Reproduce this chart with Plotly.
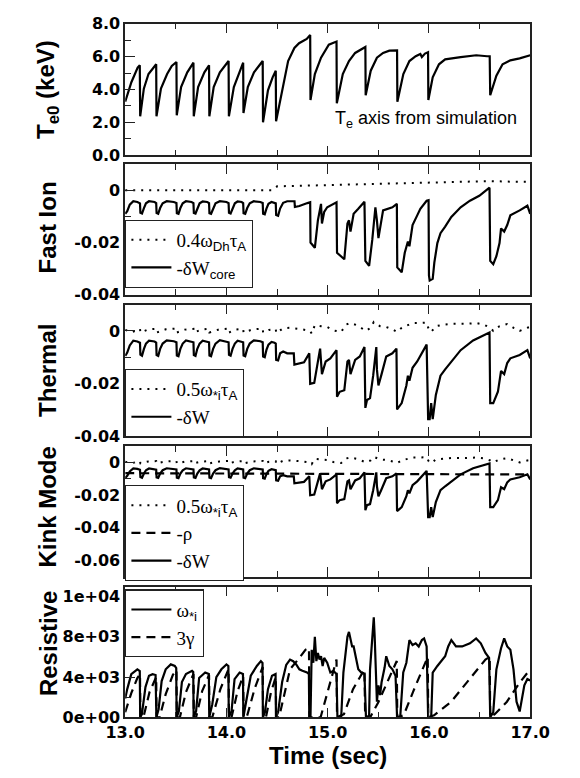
import plotly.graph_objects as go

# ---------------- data (time in s, value) ----------------
# Central electron temperature (keV)
te_pts = [
    (13.000, 3.26), (13.061, 4.44), (13.123, 5.33), (13.144, 5.47), (13.148, 2.37), (13.184, 4.05),
    (13.230, 4.94), (13.306, 5.53), (13.309, 2.37), (13.353, 4.05), (13.414, 4.94), (13.460, 5.43),
    (13.506, 5.67), (13.509, 2.43), (13.552, 4.15), (13.613, 5.04), (13.674, 5.63), (13.677, 2.37),
    (13.720, 4.15), (13.782, 5.04), (13.828, 5.47), (13.831, 2.37), (13.874, 4.15), (13.935, 5.04),
    (14.021, 5.73), (14.024, 2.37), (14.073, 4.15), (14.119, 4.94), (14.165, 5.63), (14.168, 2.57),
    (14.211, 4.15), (14.272, 5.04), (14.358, 5.73), (14.361, 2.01), (14.410, 3.95), (14.456, 4.74),
    (14.487, 5.14), (14.490, 2.07), (14.548, 3.75), (14.609, 5.73), (14.671, 6.52), (14.717, 6.81),
    (14.793, 7.07), (14.827, 7.31), (14.830, 3.36), (14.873, 4.94), (14.934, 5.93), (15.011, 6.72),
    (15.087, 6.91), (15.090, 3.16), (15.149, 4.94), (15.210, 5.73), (15.271, 6.22), (15.372, 6.58),
    (15.375, 3.65), (15.425, 5.14), (15.486, 5.93), (15.547, 6.22), (15.609, 6.36), (15.685, 6.38),
    (15.688, 3.26), (15.747, 4.94), (15.807, 5.73), (15.869, 6.02), (15.915, 6.16), (15.930, 5.97),
    (15.961, 6.18), (15.991, 6.26), (15.994, 3.36), (16.037, 4.74), (16.099, 5.53), (16.160, 5.83),
    (16.313, 5.97), (16.467, 6.08), (16.574, 6.02), (16.600, 6.02), (16.605, 3.65), (16.666, 4.84),
    (16.727, 5.53), (16.804, 5.77), (16.896, 5.89), (17.000, 6.08)]

# Fast ion: 0.4 w_Dh tau_A (dotted)
fdot_pts = [
    (13.00, 0.0), (13.50, 0.0), (14.00, 0.0), (14.45, 0.0), (14.50, 0.0015), (14.60, 0.0016),
    (14.80, 0.0017), (15.00, 0.0019), (15.20, 0.0021), (15.40, 0.0024), (15.60, 0.0025), (15.80, 0.0026),
    (16.00, 0.0029), (16.20, 0.0031), (16.40, 0.0033), (16.60, 0.0035), (16.80, 0.0033), (17.00, 0.0033)]

# Fast ion: -dW_core (solid)
fcore_pts = [
    (13.000, -0.0090), (13.020, -0.0080), (13.045, -0.0055), (13.080, -0.0042), (13.120, -0.0045), (13.146, -0.0050),
    (13.150, -0.0086), (13.166, -0.0089), (13.185, -0.0068), (13.205, -0.0050), (13.235, -0.0042), (13.290, -0.0045),
    (13.306, -0.0049), (13.310, -0.0087), (13.326, -0.0090), (13.345, -0.0068), (13.370, -0.0050), (13.410, -0.0042),
    (13.480, -0.0045), (13.506, -0.0049), (13.510, -0.0088), (13.526, -0.0090), (13.545, -0.0068), (13.568, -0.0050),
    (13.600, -0.0042), (13.655, -0.0045), (13.674, -0.0049), (13.678, -0.0087), (13.694, -0.0089), (13.712, -0.0068),
    (13.735, -0.0050), (13.765, -0.0043), (13.810, -0.0045), (13.828, -0.0049), (13.832, -0.0088), (13.848, -0.0090),
    (13.868, -0.0068), (13.892, -0.0050), (13.935, -0.0042), (14.000, -0.0045), (14.021, -0.0049), (14.025, -0.0086),
    (14.041, -0.0089), (14.060, -0.0068), (14.083, -0.0050), (14.110, -0.0043), (14.150, -0.0045), (14.165, -0.0049),
    (14.169, -0.0088), (14.185, -0.0090), (14.205, -0.0068), (14.230, -0.0050), (14.270, -0.0042), (14.335, -0.0045),
    (14.358, -0.0049), (14.362, -0.0090), (14.378, -0.0092), (14.395, -0.0070), (14.415, -0.0052), (14.445, -0.0045),
    (14.475, -0.0047), (14.487, -0.0050), (14.491, -0.0095), (14.510, -0.0098), (14.530, -0.0070), (14.560, -0.0048),
    (14.600, -0.0042), (14.672, -0.0042), (14.676, -0.0064), (14.720, -0.0060), (14.800, -0.0049), (14.827, -0.0046),
    (14.830, -0.0200), (14.873, -0.0220), (14.903, -0.0115), (14.934, -0.0052), (14.943, -0.0127), (14.965, -0.0083),
    (14.995, -0.0065), (15.087, -0.0046), (15.092, -0.0239), (15.164, -0.0264), (15.195, -0.0127), (15.210, -0.0115),
    (15.225, -0.0158), (15.256, -0.0090), (15.302, -0.0071), (15.363, -0.0044), (15.372, -0.0270), (15.409, -0.0289),
    (15.440, -0.0190), (15.471, -0.0065), (15.486, -0.0115), (15.501, -0.0183), (15.517, -0.0146), (15.547, -0.0077),
    (15.639, -0.0065), (15.683, -0.0052), (15.687, -0.0295), (15.731, -0.0314), (15.761, -0.0239), (15.792, -0.0196),
    (15.807, -0.0214), (15.838, -0.0133), (15.884, -0.0096), (15.915, -0.0071), (15.977, -0.0040), (15.996, -0.0038),
    (16.000, -0.0326), (16.007, -0.0345), (16.037, -0.0339), (16.053, -0.0277), (16.083, -0.0202), (16.114, -0.0164),
    (16.160, -0.0139), (16.221, -0.0102), (16.313, -0.0065), (16.405, -0.0040), (16.497, -0.0021), (16.598, 0.0010),
    (16.605, -0.0270), (16.635, -0.0283), (16.666, -0.0252), (16.697, -0.0202), (16.712, -0.0146), (16.743, -0.0158),
    (16.773, -0.0133), (16.804, -0.0096), (16.896, -0.0077), (16.972, -0.0059), (17.000, -0.0090)]

# Thermal / kink: 0.5 w*i tau_A (dotted)
wsi_pts = [
    (13.000, 0.0004), (13.070, -0.0004), (13.146, 0.0008), (13.150, -0.0006), (13.230, 0.0006), (13.306, 0.0008),
    (13.310, -0.0006), (13.400, 0.0006), (13.506, 0.0009), (13.510, -0.0006), (13.590, 0.0005), (13.674, 0.0008),
    (13.678, -0.0006), (13.750, 0.0005), (13.828, 0.0008), (13.832, -0.0006), (13.930, 0.0006), (14.021, 0.0009),
    (14.025, -0.0006), (14.090, 0.0005), (14.165, 0.0008), (14.169, -0.0006), (14.260, 0.0006), (14.358, 0.0009),
    (14.362, -0.0006), (14.420, 0.0004), (14.487, 0.0007), (14.491, -0.0008), (14.560, 0.0010), (14.628, 0.0012),
    (14.750, 0.0006), (14.827, 0.0000), (14.842, -0.0010), (14.873, 0.0022), (14.934, 0.0018), (14.995, 0.0015),
    (15.057, 0.0002), (15.133, -0.0004), (15.180, 0.0024), (15.225, 0.0030), (15.286, 0.0022), (15.332, 0.0012),
    (15.378, 0.0000), (15.424, 0.0012), (15.455, 0.0034), (15.517, 0.0018), (15.578, 0.0015), (15.639, 0.0006),
    (15.685, -0.0004), (15.731, 0.0012), (15.792, 0.0024), (15.838, 0.0030), (15.899, 0.0030), (15.977, 0.0032),
    (15.998, 0.0006), (16.022, -0.0004), (16.068, 0.0018), (16.144, 0.0024), (16.221, 0.0027), (16.374, 0.0027),
    (16.466, 0.0030), (16.543, 0.0024), (16.605, 0.0012), (16.635, 0.0000), (16.697, 0.0018), (16.773, 0.0026),
    (16.835, 0.0012), (16.896, 0.0000), (16.972, 0.0012), (17.000, 0.0015)]

# Thermal / kink: -dW (solid)
dw_pts = [
    (13.000, -0.0095), (13.020, -0.0082), (13.045, -0.0055), (13.080, -0.0037), (13.120, -0.0040), (13.146, -0.0045),
    (13.150, -0.0090), (13.166, -0.0094), (13.185, -0.0068), (13.205, -0.0048), (13.235, -0.0037), (13.290, -0.0040),
    (13.306, -0.0044), (13.310, -0.0092), (13.326, -0.0095), (13.345, -0.0068), (13.370, -0.0048), (13.410, -0.0036),
    (13.480, -0.0039), (13.506, -0.0043), (13.510, -0.0093), (13.526, -0.0096), (13.545, -0.0068), (13.568, -0.0048),
    (13.600, -0.0036), (13.655, -0.0040), (13.674, -0.0043), (13.678, -0.0092), (13.694, -0.0095), (13.712, -0.0068),
    (13.735, -0.0048), (13.765, -0.0037), (13.810, -0.0040), (13.828, -0.0043), (13.832, -0.0093), (13.848, -0.0096),
    (13.868, -0.0068), (13.892, -0.0048), (13.935, -0.0035), (14.000, -0.0039), (14.021, -0.0043), (14.025, -0.0091),
    (14.041, -0.0094), (14.060, -0.0068), (14.083, -0.0048), (14.110, -0.0037), (14.150, -0.0040), (14.165, -0.0043),
    (14.169, -0.0093), (14.185, -0.0096), (14.205, -0.0068), (14.230, -0.0048), (14.270, -0.0036), (14.335, -0.0039),
    (14.358, -0.0043), (14.362, -0.0097), (14.378, -0.0100), (14.395, -0.0072), (14.415, -0.0052), (14.445, -0.0042),
    (14.475, -0.0045), (14.487, -0.0048), (14.491, -0.0110), (14.510, -0.0112), (14.530, -0.0085), (14.560, -0.0078),
    (14.600, -0.0085), (14.628, -0.0085), (14.665, -0.0085), (14.671, -0.0128), (14.766, -0.0119), (14.818, -0.0085),
    (14.827, -0.0201), (14.867, -0.0197), (14.903, -0.0110), (14.925, -0.0067), (14.943, -0.0164), (14.980, -0.0116),
    (15.026, -0.0104), (15.087, -0.0073), (15.092, -0.0250), (15.118, -0.0231), (15.164, -0.0225), (15.195, -0.0116),
    (15.210, -0.0110), (15.225, -0.0164), (15.271, -0.0110), (15.317, -0.0097), (15.363, -0.0061), (15.372, -0.0292),
    (15.388, -0.0262), (15.418, -0.0255), (15.449, -0.0170), (15.480, -0.0061), (15.486, -0.0146), (15.501, -0.0207),
    (15.532, -0.0164), (15.578, -0.0097), (15.639, -0.0085), (15.679, -0.0067), (15.685, -0.0298), (15.731, -0.0274),
    (15.777, -0.0207), (15.792, -0.0170), (15.807, -0.0189), (15.838, -0.0140), (15.884, -0.0116), (15.930, -0.0085),
    (15.977, -0.0052), (15.992, -0.0335), (16.007, -0.0335), (16.022, -0.0274), (16.037, -0.0335), (16.068, -0.0243),
    (16.114, -0.0170), (16.160, -0.0146), (16.221, -0.0116), (16.313, -0.0073), (16.436, -0.0036), (16.598, -0.0006),
    (16.605, -0.0274), (16.635, -0.0274), (16.681, -0.0231), (16.712, -0.0152), (16.743, -0.0164), (16.773, -0.0122),
    (16.804, -0.0104), (16.896, -0.0091), (16.972, -0.0073), (17.000, -0.0104)]

# Kink: -rho (dashed)
rho_pts = [(13.0, -0.0066), (13.5, -0.0067), (14.0, -0.0068), (14.5, -0.0070), (15.0, -0.0072),
           (15.5, -0.0073), (16.0, -0.0073), (16.5, -0.0074), (17.0, -0.0074)]

# Resistive: w*i (solid)
wr_pts = [
    (13.000, 1870), (13.020, 2800), (13.060, 4290), (13.120, 4770), (13.144, 4600), (13.148, 0),
    (13.165, 300), (13.200, 3000), (13.235, 4130), (13.270, 4290), (13.300, 4200), (13.308, 0),
    (13.330, 800), (13.360, 3600), (13.400, 4770), (13.450, 5260), (13.490, 5100), (13.504, 4900),
    (13.508, 0), (13.530, 600), (13.560, 3500), (13.600, 4300), (13.660, 4620), (13.672, 4500),
    (13.676, 0), (13.700, 600), (13.730, 3900), (13.790, 4450), (13.826, 4300), (13.830, 0),
    (13.860, 1300), (13.900, 4000), (13.950, 4770), (14.000, 5260), (14.019, 5100), (14.023, 0),
    (14.050, 600), (14.080, 3800), (14.130, 4450), (14.163, 4300), (14.167, 0), (14.190, 1200),
    (14.240, 4130), (14.300, 5100), (14.340, 5580), (14.356, 5400), (14.360, 0), (14.380, 500),
    (14.410, 2800), (14.450, 4130), (14.485, 4300), (14.489, 0), (14.510, 500), (14.550, 3500),
    (14.590, 5200), (14.628, 5740), (14.659, 5580), (14.689, 5260), (14.720, 4770), (14.750, 4620),
    (14.796, 4450), (14.814, 4290), (14.818, 0), (14.830, 0), (14.842, 6710), (14.858, 5420),
    (14.873, 8000), (14.888, 5580), (14.903, 6390), (14.919, 5740), (14.934, 6070), (14.950, 5100),
    (14.965, 5900), (14.995, 5420), (15.026, 4450), (15.057, 4620), (15.087, 4290), (15.096, 0),
    (15.133, 0), (15.155, 4450), (15.180, 6710), (15.195, 8000), (15.210, 8490), (15.225, 7680),
    (15.241, 7040), (15.256, 7040), (15.271, 6390), (15.286, 5420), (15.302, 4770), (15.332, 4450),
    (15.363, 4290), (15.378, 0), (15.409, 160), (15.418, 4770), (15.430, 6710), (15.440, 8650),
    (15.455, 9940), (15.464, 8000), (15.473, 4770), (15.486, 1550), (15.501, 3170), (15.517, 2200),
    (15.532, 3480), (15.547, 4130), (15.562, 4940), (15.578, 6070), (15.609, 5100), (15.639, 4770),
    (15.670, 4130), (15.685, 0), (15.716, 0), (15.746, 4450), (15.777, 5420), (15.807, 7680),
    (15.838, 7190), (15.869, 7360), (15.899, 7040), (15.930, 7680), (15.952, 7840), (15.977, 7040),
    (15.992, 0), (16.022, 0), (16.037, 4450), (16.083, 5100), (16.129, 5740), (16.160, 6070),
    (16.190, 7040), (16.221, 7680), (16.267, 7040), (16.328, 7040), (16.405, 7360), (16.466, 7840),
    (16.512, 7360), (16.558, 6390), (16.594, 5900), (16.605, 0), (16.635, 480), (16.666, 4770),
    (16.712, 6870), (16.743, 7840), (16.773, 7040), (16.804, 6710), (16.835, 4770), (16.865, 1550),
    (16.896, 580), (16.911, 1550), (16.942, 3170), (16.972, 3810), (17.000, 3650)]

# Resistive: 3 gamma (dashed)
g3_pts = [
    (13.000, 500), (13.060, 2400), (13.120, 3900), (13.146, 4300), (13.150, 0), (13.180, 0),
    (13.240, 2500), (13.300, 4000), (13.306, 4000), (13.310, 0), (13.340, 0), (13.400, 2300),
    (13.470, 4200), (13.506, 4700), (13.510, 0), (13.540, 0), (13.600, 2500), (13.674, 4300),
    (13.678, 0), (13.700, 0), (13.760, 2600), (13.828, 4200), (13.832, 0), (13.860, 0),
    (13.940, 2800), (14.021, 4800), (14.025, 0), (14.050, 0), (14.110, 2600), (14.165, 4100),
    (14.169, 0), (14.200, 0), (14.280, 2900), (14.358, 5000), (14.362, 0), (14.390, 0),
    (14.440, 2500), (14.487, 4000), (14.491, 0), (14.520, 0), (14.628, 4770), (14.720, 5900),
    (14.780, 6710), (14.815, 6870), (14.820, 0), (14.930, 0), (14.970, 1500), (15.030, 3800),
    (15.087, 5740), (15.092, 0), (15.160, 300), (15.250, 2800), (15.363, 4770), (15.370, 0),
    (15.420, 0), (15.500, 1500), (15.600, 3800), (15.682, 5600), (15.687, 0), (15.750, 200),
    (15.850, 2700), (15.950, 5000), (15.988, 6000), (15.993, 0), (16.050, 200), (16.220, 1550),
    (16.405, 3810), (16.558, 5740), (16.600, 6000), (16.605, 0), (16.650, 300), (16.770, 1550),
    (16.900, 3500), (17.000, 4770)]

x_ticktext = ["13.0", "14.0", "15.0", "16.0", "17.0"]
resist_ticktext = ["0e+00", "4e+03", "8e+03", "1e+04"]

# ---------------- figure ----------------
W, H = 580, 778
X0, X1 = 113, 548
panels_px = [(15, 150), (159, 293), (303, 438), (448, 582), (592, 726)]

def ydom(top, bot):
    return [1 - bot / H, 1 - top / H]

AX = "#222222"
TICKFONT = dict(family="DejaVu Sans", size=16, color="black", weight="bold")
SANS = "font-family:Liberation Sans"

def sub(s):
    return f"<sub><span style=\"{SANS}\">{s}</span></sub>"

fig = go.Figure()

def line(pts, ax, dash, name=None, legend=None, width=2.2):
    xs = [p[0] for p in pts]
    ys = [p[1] for p in pts]
    fig.add_trace(go.Scatter(
        x=xs, y=ys, mode="lines", xaxis=f"x{ax}" if ax > 1 else "x", yaxis=f"y{ax}" if ax > 1 else "y",
        line=dict(color="black", width=width, dash=dash),
        name=name or "", showlegend=name is not None, legend=legend, hoverinfo="skip"))

DOT = "2px,6px"
DASH = "9px,6px"

line(te_pts, 1, "solid")
line(fdot_pts, 2, DOT, "0.4ω" + sub("Dh") + "τ" + sub("A"), "legend2", 2)
line(fcore_pts, 2, "solid", "-δW" + sub("core"), "legend2")
line(wsi_pts, 3, DOT, "0.5ω" + sub("*i") + "τ" + sub("A"), "legend3", 2)
line(dw_pts, 3, "solid", "-δW", "legend3")
line(wsi_pts, 4, DOT, "0.5ω" + sub("*i") + "τ" + sub("A"), "legend4", 2)
line(rho_pts, 4, DASH, "-ρ", "legend4")
line(dw_pts, 4, "solid", "-δW", "legend4")
line(wr_pts, 5, "solid", "ω" + sub("*i"), "legend5")
line(g3_pts, 5, DASH, "3γ", "legend5")

layout = dict(
    width=W, height=H, margin=dict(l=0, r=0, t=0, b=0),
    paper_bgcolor="white", plot_bgcolor="white", showlegend=True,
)

y_specs = [
    dict(range=[0, 8], tickvals=[0, 2, 4, 6, 8], ticktext=["0.0", "2.0", "4.0", "6.0", "8.0"],
         minor_vals=[1, 3, 5, 7]),
    dict(range=[-0.04, 0.01], tickvals=[-0.04, -0.02, 0], ticktext=["-0.04", "-0.02", "0"],
         minor_vals=[-0.03, -0.01]),
    dict(range=[-0.04, 0.01], tickvals=[-0.04, -0.02, 0], ticktext=["-0.04", "-0.02", "0"],
         minor_vals=[-0.03, -0.01]),
    dict(range=[-0.07, 0.01], tickvals=[-0.06, -0.04, -0.02, 0], ticktext=["-0.06", "-0.04", "-0.02", "0"],
         minor_vals=[-0.05, -0.03, -0.01]),
    dict(range=[0, 13000], tickvals=[0, 4000, 8000, 12000], ticktext=resist_ticktext,
         minor_vals=[2000, 6000, 10000]),
]

for i, ((top, bot), ys) in enumerate(zip(panels_px, y_specs), start=1):
    xk = "xaxis" if i == 1 else f"xaxis{i}"
    yk = "yaxis" if i == 1 else f"yaxis{i}"
    layout[xk] = dict(
        domain=[X0 / W, X1 / W], range=[13, 17], anchor="y" if i == 1 else f"y{i}",
        showline=True, linecolor=AX, linewidth=1.5, mirror="ticks",
        ticks="inside", ticklen=10, tickwidth=1.3, tickcolor=AX,
        tickvals=[13, 14, 15, 16, 17], ticktext=x_ticktext,
        minor=dict(ticks="inside", ticklen=6, tickwidth=1.3, tickcolor=AX, tickvals=[13.5, 14.5, 15.5, 16.5]),
        showgrid=False, zeroline=False, showticklabels=(i == 5), tickfont=TICKFONT, fixedrange=True,
    )
    layout[yk] = dict(
        domain=ydom(top, bot), range=ys["range"], anchor="x" if i == 1 else f"x{i}",
        showline=True, linecolor=AX, linewidth=1.5, mirror=True,
        ticks="inside", ticklen=10, tickwidth=1.3, tickcolor=AX,
        tickvals=ys["tickvals"], ticktext=ys["ticktext"],
        minor=dict(ticks="inside", ticklen=6, tickwidth=1.3, tickcolor=AX, tickvals=ys["minor_vals"]),
        showgrid=False, zeroline=False, tickfont=TICKFONT, fixedrange=True,
    )

def legend_box(x_px, y_px):
    return dict(x=x_px / W, y=1 - y_px / H, xanchor="left", yanchor="top",
                bordercolor=AX, borderwidth=1.2, bgcolor="white",
                font=dict(family="Liberation Serif", size=19, color="black"),
                tracegroupgap=0, traceorder="normal", itemwidth=40)

layout["legend"] = dict(visible=False)
layout["legend2"] = legend_box(113, 216)
layout["legend3"] = legend_box(113, 369)
layout["legend4"] = legend_box(113, 488)
layout["legend5"] = legend_box(113, 595)

TITLEFONT = dict(family="Liberation Sans", size=24, color="black", weight="bold")
titles = [("T<sub>e0</sub> (keV)", 82), ("Fast Ion", 224), ("Thermal", 370), ("Kink Mode", 510), ("Resistive", 650)]
annotations = []
for text, yc in titles:
    annotations.append(dict(text=text, x=30 / W, y=1 - yc / H, xref="paper", yref="paper",
                            xanchor="center", yanchor="middle", textangle=-90, showarrow=False,
                            font=TITLEFONT))
annotations.append(dict(text="Time (sec)", x=331 / W, y=1 - 765 / H, xref="paper", yref="paper",
                        xanchor="center", yanchor="middle", showarrow=False, font=TITLEFONT))
annotations.append(dict(text="T<sub>e</sub> axis from simulation", x=536 / W, y=1 - 113 / H,
                        xref="paper", yref="paper", xanchor="right", yanchor="middle", showarrow=False,
                        font=dict(family="Liberation Sans", size=18, color="black")))
layout["annotations"] = annotations

fig.update_layout(**layout)
fig.write_html("out.html")
